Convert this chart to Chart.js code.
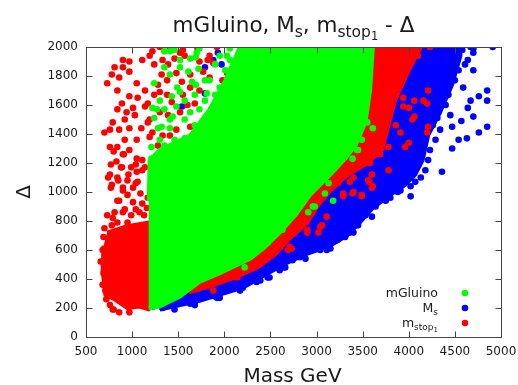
<!DOCTYPE html>
<html>
<head>
<meta charset="utf-8">
<script src="https://cdn.jsdelivr.net/npm/chart.js@4.4.0/dist/chart.umd.min.js"></script>
<style>
  html, body { margin: 0; padding: 0; background: #fff; }
  #wrap { width: 518px; height: 385px; }
</style>
</head>
<body>
<div id="wrap"><canvas id="c"></canvas></div>
<script>
// axis ticks
const xTicks = [500, 1000, 1500, 2000, 2500, 3000, 3500, 4000, 4500, 5000];
const yTicks = [0, 200, 400, 600, 800, 1000, 1200, 1400, 1600, 1800, 2000];

// mGluino: outline of the dense (solid) cloud + loose points around it
const gluinoCore = [[1180,200],[1300,210],[1520,280],[1730,380],[1950,440],[2280,540],[2440,620],[2600,720],[2770,840],[2930,980],[3150,1120],[3310,1230],[3420,1320],[3530,1480],[3580,1700],[3610,2000],[2170,2000],[2010,1770],[1840,1570],[1630,1390],[1300,1290],[1190,1220],[1180,940]];
const gluinoPts = [[1350,1970],[1410,1970],[1460,1980],[1700,1960],[1690,1930],[1730,1990],[2060,1990],[1350,1860],[1520,1860],[1610,1830],[1720,1850],[1240,1750],[1490,1720],[1520,1690],[1650,1760],[1690,1740],[1840,1770],[2030,1940],[2060,1910],[1900,1880],[1810,1680],[1430,1660],[1270,1570],[1240,1510],[1320,1450],[1410,1440],[1220,1580],[1630,1550],[1480,1590],[1440,1520],[1210,1310],[1210,1230],
  [1300,1360],[1350,1320],[1460,1360],[1570,1370],[1410,1500],[1570,1500],[1680,1460],[1730,1570],[1790,1630],[1900,1670],[1950,1720],[1570,1630],[1680,1670],[1790,1770],[2010,1840],[2080,1840],[1950,1940],[2140,1920],[1630,1920],[1520,1910],[1410,1810],[1300,1630],[1350,1570],[1280,1440],
  [3550,1480],[3610,1440],[3490,1360],[3440,1290],[3390,1230],[3450,1290],[3130,1060],[3180,940],[3090,990],[2980,900],[2910,860],[2790,920],[2600,740],[2470,650],[2220,480],[2960,900],[2630,740]];

// M_s
const msCore = [[1300,190],[1730,250],[2200,340],[2640,500],[2880,570],[3150,630],[3330,700],[3470,790],[3610,890],[3800,980],[3960,1050],[4070,1120],[4150,1220],[4210,1390],[4340,1550],[4470,1740],[4560,1940],[4560,2000],[3600,2000],[2820,1630],[1730,600],[1240,260]];
const msPts = [[1330,200],[1230,210],[1330,220],[1630,230],[1810,280],[1900,280],[1920,270],[2060,340],[2200,340],[2240,370],[2350,390],[2350,380],[2470,410],[2490,410],[2640,480],[2660,480],[2740,530],[2880,540],[3110,600],[3150,610],[3310,690],[3360,720],[3400,720],[3440,880],[3450,770],[3600,830],[3800,960],[3880,1000],[4020,970],[4070,1070],[3910,1070],[3880,1190],[3880,1100],[4360,1140],
  [4910,2000],[4700,1960],[4700,1990],[4670,2000],[4640,1910],[4700,1840],[4590,1720],[4850,1700],[4760,1660],[4850,1630],[4670,1630],[4640,1580],[4700,1520],[4570,1490],[4850,1450],[4760,1410],[4630,1370],[4540,1360],[4470,1300],[4470,1450],
  [4260,1460],[4310,1510],[4400,1600],[4430,1670],[4500,1770],[4540,1840],[4610,1880],[4580,1980],[4450,1530],[4340,1430],[4290,1360],[4230,1290],[4210,1220],[4180,1150],[4130,1100],[4020,1040],[3910,1010],[3750,940],[3640,900],[3530,840],[3360,750],[3230,670],[3040,600],[2820,550],[2600,460],[2390,390],[2170,320],[1950,270],[1680,220],[1460,190],
  [1790,1860],[1880,1910],[1970,1880],[1790,1680],[1540,1590],[2140,1620],[1930,1960]];

// m_stop1: left cluster, band along the gluino edge, loose points
const stopCoreLeft = [[730,720],[920,760],[1180,790],[1180,190],[1080,210],[950,200],[810,260],[710,290],[680,460],[690,630]];
const stopCoreRight = [[3530,2000],[4130,2000],[4000,1840],[3850,1630],[3780,1460],[3710,1290],[3530,1190],[3340,1120],[3150,1010],[3020,910],[2900,790],[2710,680],[2550,570],[2360,480],[2110,410],[1840,350],[1630,310],[2280,670],[3260,1290],[3470,2000]];
const stopPts = [
  [4230,2000],[4100,1940],[4210,1700],[4200,1610],[4160,1630],[4060,1630],[3940,1650],[4000,1580],[4060,1520],[4040,1500],[3860,1460],[4210,1450],[4200,1410],[3910,1410],[4000,1340],[3780,1310],[3690,1260],[3780,1150],[3600,1120],[3570,1070],[3610,1040],[3440,1270],[3580,1200],[3940,1590],[3960,1310],[3690,1310],[3550,1200],[3490,980],[3290,970],[3400,1000],[3110,830],[3060,770],[3020,720],[2900,740],[2850,790],[2710,620],[2690,600],[2490,580],[2390,570],[2140,410],[1880,320],[3600,1030],[3400,1100],[3040,760],[2900,720],[2730,610],[3290,990],[3390,990],[3490,970],[3560,1080],[3230,1060],[3360,1070],
  [1300,2000],[1220,1970],[1570,1940],[1550,1980],[900,1910],[970,1900],[810,1860],[900,1860],[1110,1910],[970,1830],[860,1790],[780,1810],[730,1750],[1050,1750],[1140,1700],[840,1700],[970,1660],[890,1610],[1060,1650],[1170,1610],[1140,1590],[1010,1580],[840,1570],[940,1550],[1030,1530],[920,1500],[790,1480],[760,1430],[700,1410],[860,1430],[970,1440],[1170,1480],[1100,1440],[920,1360],[1050,1360],[840,1310],[760,1310],[970,1290],[900,1260],[1050,1230],[1110,1220],[830,1210],[890,1170],[990,1170],[1050,1140],[1140,1170],[760,1120],[840,1100],[950,1080],[1060,1070],[780,1050],[900,1030],[1010,1030],
  [800,1280],[910,1260],[770,1190],[880,1170],[1040,1190],[1110,1150],[960,1120],[740,1100],[850,1080],[1040,1060],[770,1030],[900,1010],[1090,990],[950,980],[840,940],[1010,930],[1110,920],[900,860],[1040,880],[1130,840],[790,820],[950,790],
  [700,750],[780,770],[840,790],[730,840],[810,860],[920,880],[990,840],[1080,860],[1160,890],[860,940],[1170,960],[680,600],[660,520],[680,360],[720,260],[760,220],[860,170],[970,170],
  [800,190],[790,190],[960,210],[1070,220],[690,690],[710,530],[690,440],[740,410],[710,320],[820,340],
  [1330,1910],[1390,1880],[1480,1820],[1380,1770],[1540,1760],[1300,1690],[1380,1670],[1550,1670],[1430,1620],[1630,1720],[1770,1830],[1880,1890],[1730,1900],[1840,1790],[1980,1770],[2030,1820],[2110,1700],[2060,1630],[1840,1940],[1520,1960],[1920,2000],[2240,2000],[1630,1450],[1480,1430],[1330,1390],[1190,1500],[1220,1410],[1190,1380],
  [1240,1670],[1300,1550],[1390,1530],[1520,1550],[1600,1600],[1680,1610],[1730,1700],[1630,1810],[1460,1920],[1320,1810],[1240,1880],[1280,1740],[1410,1390],[1520,1320],[1280,1320],[1680,1360],[1790,1500],[1860,1570],[1950,1600],[2010,1670],[1820,1910],[1710,1990],[2170,1980],[1410,1990],[1190,1940],[2040,1740],[1630,1360]
];

const GREEN = '#00ff00', BLUE = '#0000ff', RED = '#ff0000';
const FONT = '"DejaVu Sans", sans-serif';

function toXY(list) {
  return list.map(p => ({ x: p[0], y: p[1] }));
}

function core(list, color) {
  return {
    data: toXY(list), showLine: true, fill: 'shape', tension: 0,
    backgroundColor: color, borderColor: color, borderWidth: 4,
    borderJoinStyle: 'round', pointRadius: 0, pointHoverRadius: 0, clip: 0
  };
}

function pts(list, color) {
  return {
    data: toXY(list), showLine: false,
    pointRadius: 3.3, pointHoverRadius: 3.3, pointBorderWidth: 0,
    pointBackgroundColor: color, backgroundColor: color, clip: 0
  };
}

// text with sub/superscripts: parts = [text, size, dy]
function drawRich(ctx, parts, x, y, align) {
  let w = 0;
  parts.forEach(p => { ctx.font = p[1] + 'px ' + FONT; w += ctx.measureText(p[0]).width; });
  let cx = align === 'center' ? x - w / 2 : align === 'right' ? x - w : x;
  ctx.textAlign = 'left';
  ctx.textBaseline = 'alphabetic';
  parts.forEach(p => {
    ctx.font = p[1] + 'px ' + FONT;
    ctx.fillText(p[0], cx, y + p[2]);
    cx += ctx.measureText(p[0]).width;
  });
}

const decor = {
  id: 'decor',
  afterDatasetsDraw(chart) {
    const ctx = chart.ctx;
    const a = chart.chartArea;
    const sx = chart.scales.x, sy = chart.scales.y;
    ctx.save();
    ctx.strokeStyle = '#444';
    ctx.lineWidth = 1;
    const L = Math.round(a.left) + 0.5, R = Math.round(a.right) + 0.5;
    const T = Math.round(a.top) + 0.5, B = Math.round(a.bottom) + 0.5;
    ctx.strokeRect(L, T, R - L, B - T);
    ctx.beginPath();
    xTicks.forEach(v => {
      const px = Math.round(sx.getPixelForValue(v)) + 0.5;
      ctx.moveTo(px, B); ctx.lineTo(px, B - 6);
      ctx.moveTo(px, T); ctx.lineTo(px, T + 6);
    });
    yTicks.forEach(v => {
      const py = Math.round(sy.getPixelForValue(v)) + 0.5;
      ctx.moveTo(L, py); ctx.lineTo(L + 6, py);
      ctx.moveTo(R, py); ctx.lineTo(R - 6, py);
    });
    ctx.stroke();
    ctx.restore();
  },
  afterDraw(chart) {
    const ctx = chart.ctx;
    const a = chart.chartArea;
    const mid = (a.left + a.right) / 2;
    ctx.save();
    ctx.fillStyle = '#1a1a1a';
    // title
    drawRich(ctx, [['mGluino, M', 21.5, 0], ['s', 15.5, 5], [', m', 21.5, 0], ['stop', 15.5, 5], ['1', 11.5, 8], [' - Δ', 21.5, 0]], mid, 32, 'center');
    // axis titles
    drawRich(ctx, [['Mass GeV', 20, 0]], mid - 1, 382, 'center');
    ctx.save();
    ctx.translate(30, (a.top + a.bottom) / 2);
    ctx.rotate(-Math.PI / 2);
    drawRich(ctx, [['Δ', 20, 0]], 0, 0, 'center');
    ctx.restore();
    // legend
    const lx = 438, dotX = 465;
    const items = [
      [[['mGluino', 12.5, 0]], GREEN, 297],
      [[['M', 12.5, 0], ['s', 9, 3]], BLUE, 312],
      [[['m', 12.5, 0], ['stop', 9, 3], ['1', 7, 5]], RED, 327]
    ];
    items.forEach(it => {
      ctx.fillStyle = '#1a1a1a';
      drawRich(ctx, it[0], lx, it[2], 'right');
      ctx.fillStyle = it[1];
      ctx.beginPath();
      ctx.arc(dotX, it[2] - 4, 3.3, 0, Math.PI * 2);
      ctx.fill();
    });
    ctx.restore();
  }
};

new Chart(document.getElementById('c'), {
  type: 'scatter',
  data: {
    datasets: [
      pts(gluinoPts, GREEN),
      core(gluinoCore, GREEN),
      pts(stopPts, RED),
      core(stopCoreRight, RED),
      core(stopCoreLeft, RED),
      pts(msPts, BLUE),
      core(msCore, BLUE)
    ]
  },
  options: {
    responsive: true,
    maintainAspectRatio: false,
    animation: false,
    devicePixelRatio: 1,
    events: [],
    layout: { padding: { top: 47, right: 17, left: 0, bottom: 0 } },
    plugins: { legend: { display: false }, tooltip: { enabled: false }, title: { display: false } },
    scales: {
      x: {
        type: 'linear', min: 500, max: 5000,
        afterBuildTicks: s => { s.ticks = xTicks.map(v => ({ value: v })); },
        afterFit: s => { s.height = 48; s.paddingLeft = 0; s.paddingRight = 0; },
        grid: { display: false, drawTicks: false },
        border: { display: false },
        ticks: { color: '#1a1a1a', font: { family: FONT, size: 12 }, padding: 8, maxRotation: 0, autoSkip: false, callback: v => String(v) }
      },
      y: {
        type: 'linear', min: 0, max: 2000,
        afterBuildTicks: s => { s.ticks = yTicks.map(v => ({ value: v })); },
        afterFit: s => { s.width = 86; s.paddingTop = 0; s.paddingBottom = 0; },
        grid: { display: false, drawTicks: false },
        border: { display: false },
        ticks: { color: '#1a1a1a', font: { family: FONT, size: 12 }, padding: 8, autoSkip: false, callback: v => String(v) }
      }
    }
  },
  plugins: [decor]
});
</script>
</body>
</html>
